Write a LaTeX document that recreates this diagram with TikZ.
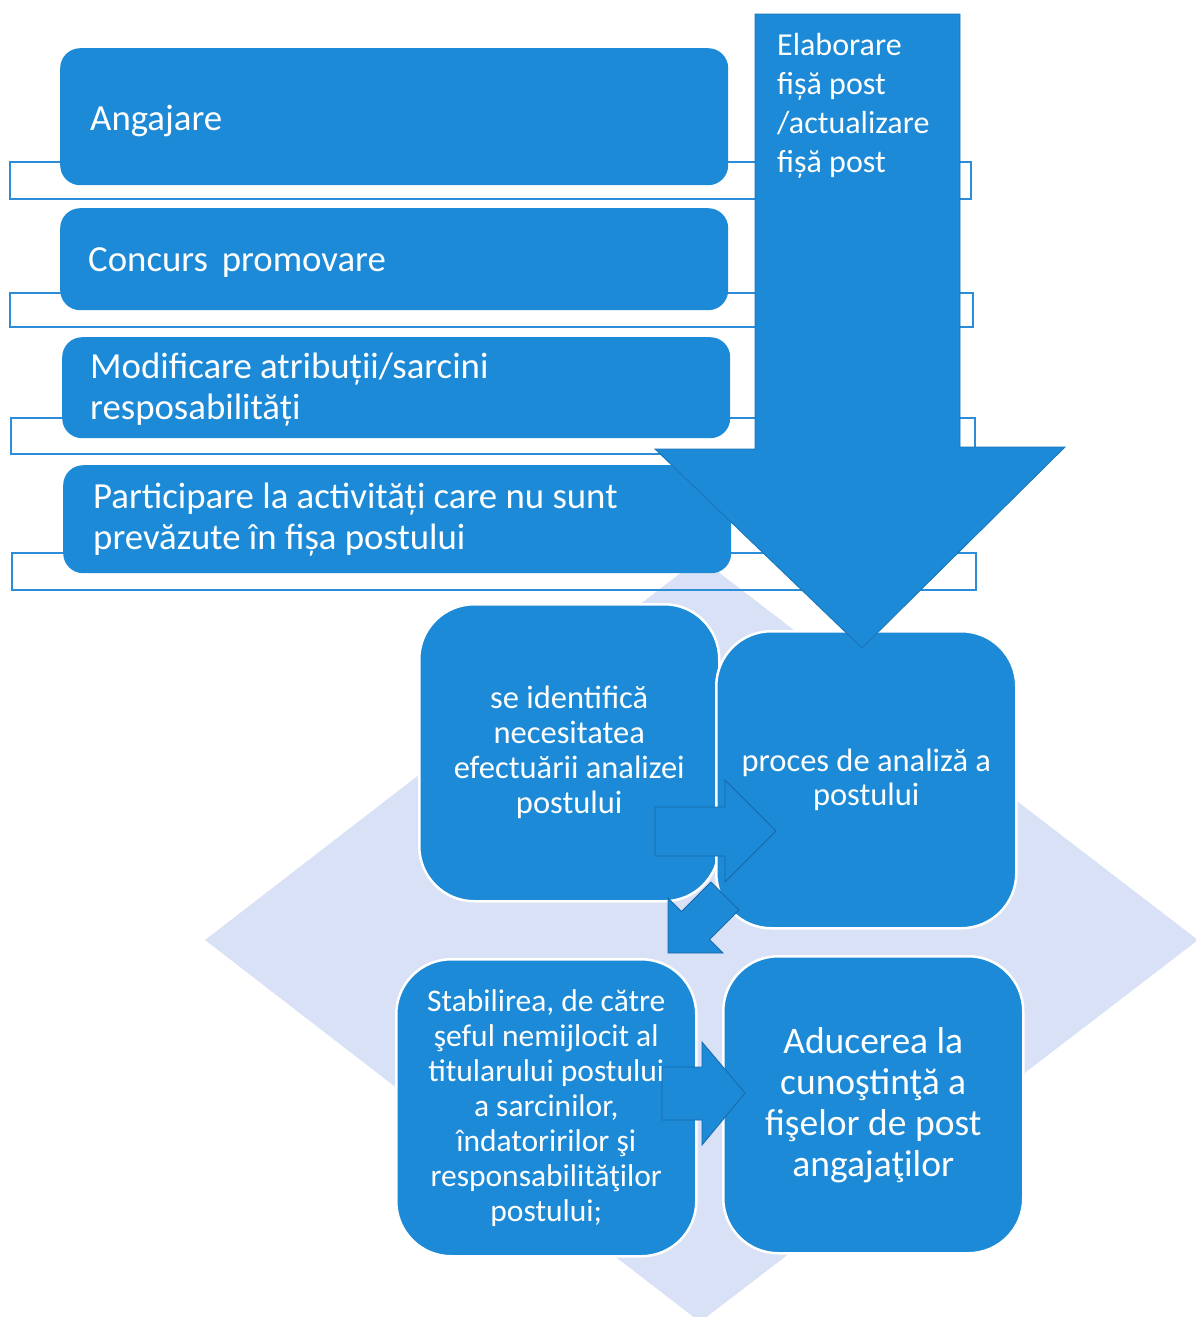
\documentclass[tikz,border=0pt]{standalone}
\usepackage{fontspec}
\setmainfont{Carlito}
\definecolor{boxblue}{RGB}{28,138,214}
\definecolor{diam}{RGB}{216,225,245}
\definecolor{edgeblue}{RGB}{25,105,170}
\definecolor{linecol}{RGB}{45,140,215}
\begin{document}
\begin{tikzpicture}[x=1pt,y=-1pt,
  listbox/.style={fill=boxblue, rounded corners=20pt, inner sep=0pt,
    anchor=north west, minimum width=668pt},
  listtext/.style={anchor=west, text=white, align=left, inner sep=0pt,
    font=\fontsize{36.8}{41}\selectfont},
  sqbox/.style={fill=boxblue, draw=white, line width=2.5pt, rounded corners=55pt,
    inner sep=0pt, anchor=north west, text=white, align=flush center,
    minimum width=300pt, minimum height=297pt, text width=290pt},
  bracket/.style={draw=linecol, line width=1.8pt},
  blockarrow/.style={fill=boxblue, draw=edgeblue, line width=0.8pt, line join=miter}
]
\useasboundingbox (0,0) rectangle (1196,1317);
% background diamond
\fill[diam] (700,558) -- (1198,940) -- (700,1322) -- (205,940) -- cycle;
% bracket outlines
\draw[bracket] (10,162) rectangle (971,199);
\draw[bracket] (10,293) rectangle (973,327);
\draw[bracket] (11,418) rectangle (975,454);
\draw[bracket] (12,553) rectangle (976,590);
% left list boxes
\node[listbox, minimum height=137pt] (b1) at (60,48) {};
\node[listbox, minimum height=102pt] (b2) at (60,208) {};
\node[listbox, minimum height=101pt] (b3) at (62,337) {};
\node[listbox, minimum height=108pt] (b4) at (63,465) {};
\node[listtext] (t1) at ([xshift=30pt,yshift=-4pt]b1.west) {Angajare};
\node[listtext] (t2) at ([xshift=28pt,yshift=-3pt]b2.west) {Concurs\hspace{0.15em} promovare};
\node[listtext] (t3) at ([xshift=28pt,yshift=-2pt]b3.west) {Modificare atribuții/sarcini\\resposabilități};
\node[listtext] (t4) at ([xshift=30pt,yshift=0pt]b4.west) {Participare la activități care nu sunt\\prevăzute în fișa postului};
% bottom squares
\node[sqbox, font=\fontsize{32.5}{35}\selectfont] (s1) at (418,603) {se identifică\\necesitatea\\efectuării analizei\\postului};
\node[sqbox, font=\fontsize{32.5}{34}\selectfont] (s2) at (715,630) {proces de analiză a\\postului};
\node[sqbox, font=\fontsize{31.5}{35}\selectfont] (s3) at (395,958) {Stabilirea, de către\\şeful nemijlocit al\\titularului postului\\a sarcinilor,\\îndatoririlor şi\\responsabilităţilor\\postului;};
\node[sqbox, font=\fontsize{37.5}{41}\selectfont] (s4) at (722,955) {Aducerea la\\cunoştinţă a\\fişelor de post\\angajaţilor};
% big down arrow
\filldraw[fill=boxblue, draw=edgeblue!70!boxblue, line width=0.8pt, line join=miter]
  (755,14) -- (960,14) -- (960,447) -- (1065,447) -- (862,648) -- (655,449) -- (755,449) -- cycle;
\node[anchor=north west, text=white, align=left, inner sep=0pt,
  font=\fontsize{32}{39}\selectfont] (arrowtext) at (777,33)
  {Elaborare\\fișă post\\/actualizare\\fișă post};
% small block arrows
\filldraw[blockarrow] (655,807) -- (725,807) -- (725,780) -- (776,831) -- (725,882) -- (725,856) -- (655,856) -- cycle;
\filldraw[blockarrow] (668,953) -- (668,898) -- (681.5,911.5) -- (711,882) -- (739,910) -- (709.5,939.5) -- (723,953) -- cycle;
\filldraw[blockarrow] (662,1067) -- (702,1067) -- (702,1042) -- (745,1093) -- (702,1145) -- (702,1120) -- (662,1120) -- cycle;
\end{tikzpicture}
\end{document}
